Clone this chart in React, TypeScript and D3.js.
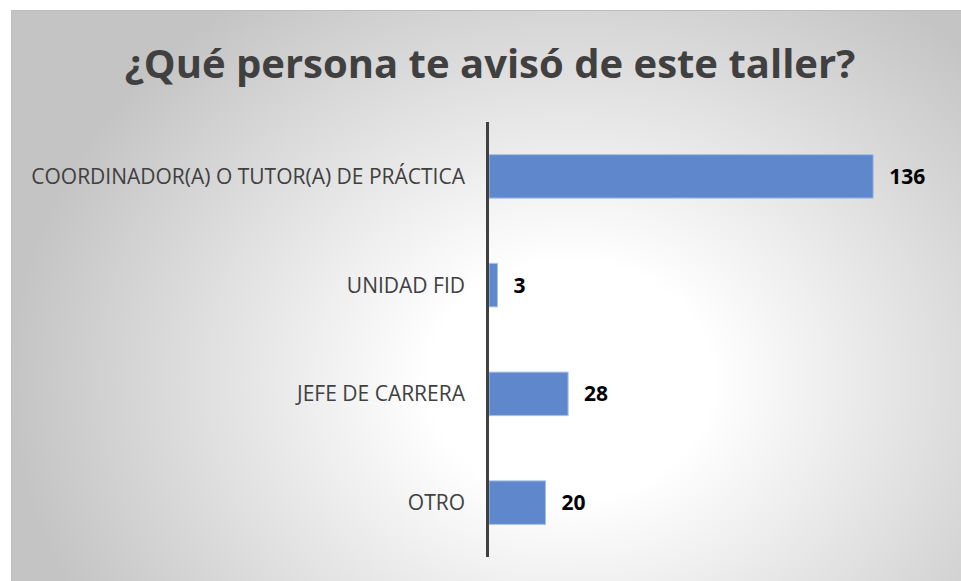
import React from 'react';
import * as d3 from 'd3';

const title = '¿Qué persona te avisó de este taller?';
const categories = ['COORDINADOR(A) O TUTOR(A) DE PRÁCTICA', 'UNIDAD FID', 'JEFE DE CARRERA', 'OTRO'];
const values = [136, 3, 28, 20];
const xDomainMax = 160;

const width = 961;
const height = 581;

export default function App() {
  // chart frame (screenshot crops it on the right and bottom)
  const frame = { x: 11, y: 10, w: width - 11, h: height - 10 };
  const axisX = 487.5;

  const x = d3.scaleLinear().domain([0, xDomainMax]).range([489, 941]);
  const y = d3
    .scaleBand<string>()
    .domain(categories)
    .range([122, 557])
    .paddingInner(0.6)
    .paddingOuter(0.3);

  const font = '"Open Sans", "DejaVu Sans", sans-serif';

  return (
    <svg
      width={width}
      height={height}
      style={{ position: 'absolute', left: 0, top: 0, display: 'block' }}
    >
      <defs>
        <radialGradient
          id="bg"
          gradientUnits="userSpaceOnUse"
          cx={0}
          cy={0}
          r={1}
          gradientTransform="translate(570,380) scale(560,470)"
        >
          <stop offset="0" stopColor="#ffffff" />
          <stop offset="0.25" stopColor="#ffffff" />
          <stop offset="1" stopColor="#c4c4c4" />
        </radialGradient>
      </defs>
      <rect width={width} height={height} fill="#ffffff" />
      <rect
        x={frame.x + 0.5}
        y={frame.y + 0.5}
        width={frame.w}
        height={frame.h}
        fill="url(#bg)"
        stroke="#bdbdbd"
        strokeWidth={1}
      />

      <text
        x={490}
        y={78}
        textAnchor="middle"
        fontFamily={font}
        fontWeight={700}
        fontSize={40}
        fill="#404040"
      >
        {title}
      </text>

      {categories.map((c, i) => {
        const by = y(c) as number;
        const bh = y.bandwidth();
        const cy = by + bh / 2;
        return (
          <g key={c}>
            <rect
              x={x(0)}
              y={by}
              width={x(values[i]) - x(0)}
              height={bh}
              fill="#5f87cb"
              stroke="#a9c0e6"
              strokeWidth={1}
            />
            <text
              x={465}
              y={cy + 7.5}
              textAnchor="end"
              fontFamily={font}
              fontSize={21}
              fill="#404040"
            >
              {c}
            </text>
            <text
              x={x(values[i]) + 16}
              y={cy + 7.5}
              fontFamily={font}
              fontWeight={700}
              fontSize={21}
              fill="#000000"
            >
              {values[i]}
            </text>
          </g>
        );
      })}

      <line x1={axisX} x2={axisX} y1={122} y2={557} stroke="#404040" strokeWidth={3} />
    </svg>
  );
}
